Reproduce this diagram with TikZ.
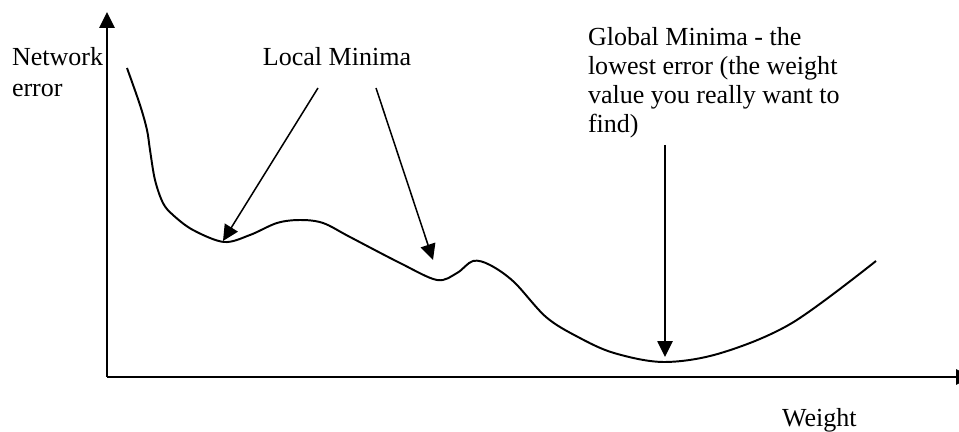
\documentclass[tikz,border=0pt]{standalone}
\usepackage{fontspec}
\setmainfont{Liberation Serif}
\usetikzlibrary{arrows.meta}

\begin{document}
\begin{tikzpicture}[x=0.4608pt, y=-0.4608pt]
\tikzset{ >={Triangle[length=7.3pt, width=7pt]}, inner sep=0pt, outer sep=0pt,
  every node/.style={font=\fontsize{12}{13.5}\selectfont},
  axis/.style={line width=0.75pt},
  curve/.style={line width=0.9pt, line join=round},
  pointer/.style={->, line width=0.7pt} }

\useasboundingbox (0,0) rectangle (959,432);

%\draw [lightgray, dashed] (0,0) grid[step=50] (959,432);

% axes
\coordinate (O)    at (107,377);
\coordinate (Ytop) at (107,12);
\coordinate (Xend) at (972,377);
\draw [axis,->] (O) -- (Ytop);
\draw [axis,->] (O) -- (Xend);

% error curve
\draw [curve] plot [smooth, tension=0.55] coordinates {
  (127,68) (140,105) (147,130) (150,150) (155,180) (163,203) (173,215)
  (193,230) (224,242) (250,235) (277,223) (300,220) (323,223) (350,237)
  (400,263) (437,280) (457,273) (473,261) (490,265) (514,282) (546,317)
  (578,337) (614,353) (664,362) (721,353) (792,323) (876,261) };

% minima and pointer starts
\coordinate (M1) at (223,241);
\coordinate (M2) at (433,260);
\coordinate (M3) at (665,357);
\coordinate (P1) at (318,88);
\coordinate (P2) at (376,88);
\coordinate (P3) at (665,145);

\draw [pointer] (P1) -- (M1);
\draw [pointer] (P2) -- (M2);
\draw [pointer] (P3) -- (M3);

% labels
\node [anchor=north west, align=left, font=\fontsize{12}{14.7}\selectfont] (Ylab) at (12,47) {Network\\error};
\node [anchor=north] (LM) at (337,47) {Local Minima};
\node [anchor=north west, align=left] (GM) at (588,27) {Global Minima - the\\lowest error (the weight\\value you really want to\\find)};
\node [anchor=north west] (Xlab) at (782,408) {Weight};

\end{tikzpicture}
\end{document}
